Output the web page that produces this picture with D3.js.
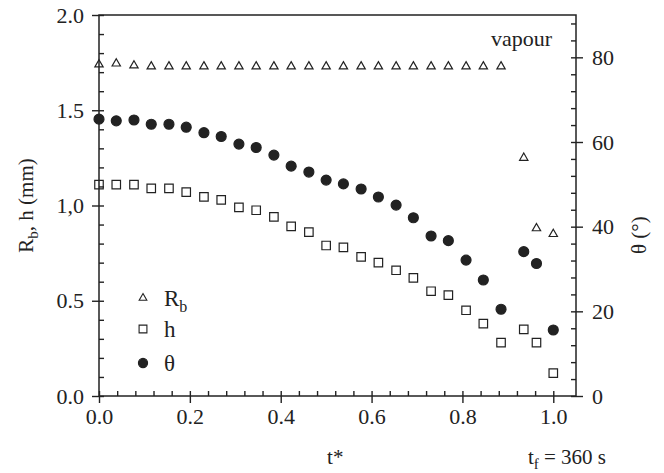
<!DOCTYPE html>
<html>
<head>
<meta charset="utf-8">
<script src="https://cdn.jsdelivr.net/npm/d3@7"></script>
<style>
  body { margin: 0; background: #fff; }
  svg text { font-family: "Liberation Serif", "Times New Roman", serif; fill: #222; }
</style>
</head>
<body>
<div id="chart"></div>
<script>
// dimensionless time t* = t / tf, tf = 360 s
const tStar = [0, 0.038, 0.077, 0.115, 0.154, 0.192, 0.231, 0.269, 0.308, 0.346,
  0.385, 0.423, 0.462, 0.5, 0.538, 0.577, 0.615, 0.654, 0.692, 0.731, 0.769,
  0.808, 0.846, 0.885, 0.935, 0.963, 1.0];

// base radius Rb (mm)
const rbValues = [1.74, 1.745, 1.735, 1.73, 1.73, 1.73, 1.73, 1.73, 1.73, 1.73,
  1.73, 1.73, 1.73, 1.73, 1.73, 1.73, 1.73, 1.73, 1.73, 1.73, 1.73,
  1.73, 1.73, 1.73, 1.25, 0.88, 0.85];

// drop height h (mm)
const hValues = [1.11, 1.11, 1.11, 1.09, 1.09, 1.07, 1.045, 1.03, 0.99, 0.975,
  0.94, 0.89, 0.86, 0.79, 0.78, 0.73, 0.70, 0.66, 0.62, 0.55, 0.53,
  0.45, 0.38, 0.28, 0.35, 0.28, 0.12];

// contact angle theta (deg)
const thetaValues = [65.4, 65.0, 65.2, 64.2, 64.2, 63.5, 62.2, 61.3, 59.5, 58.7,
  56.9, 54.3, 52.9, 51.0, 50.1, 48.9, 47.0, 45.1, 42.1, 37.8, 36.7,
  32.1, 27.4, 20.5, 34.1, 31.3, 15.6];

const xMajor = [0, 0.2, 0.4, 0.6, 0.8, 1.0];
const xLabels = ["0.0", "0.2", "0.4", "0.6", "0.8", "1.0"];
const yMajor = [0, 0.5, 1.0, 1.5, 2.0];
const yLabels = ["0.0", "0.5", "1,0", "1.5", "2.0"];
const thetaMajor = [0, 20, 40, 60, 80];

const legendItems = [
  { key: "rb", label: "R", sub: "b" },
  { key: "h", label: "h", sub: "" },
  { key: "theta", label: "θ", sub: "" },
];

const width = 664, height = 473;
const margin = { left: 99, right: 88, top: 15, bottom: 77 };
const ink = "#222";

const svg = d3.select("#chart").append("svg")
  .attr("width", width)
  .attr("height", height);

const x = d3.scaleLinear().domain([0, 1.05])
  .range([margin.left, width - margin.right]);
const y = d3.scaleLinear().domain([0, 2])
  .range([height - margin.bottom, margin.top]);
const yTheta = d3.scaleLinear().domain([0, 90])
  .range([height - margin.bottom, margin.top]);

const x0 = x.range()[0], x1 = x.range()[1];
const y0 = y.range()[0], y1 = y.range()[1];

// minor ticks: every 0.04 on t*, 0.1 on Rb/h, 4 deg on theta
const xMinor = d3.range(0, 26).map((i) => i * 0.04);
const yMinor = d3.range(0, 21).map((i) => i * 0.1);
const thetaMinor = d3.range(0, 23).map((i) => i * 4);

function styleAxis(g) {
  g.select(".domain").remove();
  g.selectAll("line").attr("stroke", ink).attr("stroke-width", 1.4);
  g.selectAll("text")
    .attr("font-size", 22)
    .attr("fill", ink)
    .style("font-family", "'Liberation Serif', serif");
}

// inward ticks (minor + major)
svg.append("g")
  .attr("transform", `translate(0,${y0})`)
  .call(d3.axisBottom(x).tickValues(xMinor).tickSize(-5).tickFormat(""))
  .call(styleAxis);
svg.append("g")
  .attr("transform", `translate(${x0},0)`)
  .call(d3.axisLeft(y).tickValues(yMinor).tickSize(-5).tickFormat(""))
  .call(styleAxis);
svg.append("g")
  .attr("transform", `translate(${x1},0)`)
  .call(d3.axisRight(yTheta).tickValues(thetaMinor).tickSize(-5).tickFormat(""))
  .call(styleAxis);

// outward major ticks with labels
svg.append("g")
  .attr("transform", `translate(0,${y0})`)
  .call(d3.axisBottom(x).tickValues(xMajor).tickSize(7).tickPadding(5)
    .tickFormat((d, i) => xLabels[i]))
  .call(styleAxis);
svg.append("g")
  .attr("transform", `translate(${x0},0)`)
  .call(d3.axisLeft(y).tickValues(yMajor).tickSize(7).tickPadding(8)
    .tickFormat((d, i) => yLabels[i]))
  .call(styleAxis);
svg.append("g")
  .attr("transform", `translate(${x1},0)`)
  .call(d3.axisRight(yTheta).tickValues(thetaMajor).tickSize(7).tickPadding(9))
  .call(styleAxis);

// frame
svg.append("rect")
  .attr("x", x0).attr("y", y1)
  .attr("width", x1 - x0).attr("height", y0 - y1)
  .attr("fill", "none")
  .attr("stroke", ink)
  .attr("stroke-width", 1.5);

// axis titles
const leftTitle = svg.append("text")
  .attr("transform", `translate(33,${(y0 + y1) / 2}) rotate(-90)`)
  .attr("text-anchor", "middle")
  .attr("font-size", 21);
leftTitle.append("tspan").text("R");
leftTitle.append("tspan").attr("font-size", 15).attr("dy", 5).text("b");
leftTitle.append("tspan").attr("dy", -5).text(", h (mm)");

svg.append("text")
  .attr("transform", `translate(646,${yTheta(38)}) rotate(-90)`)
  .attr("text-anchor", "middle")
  .attr("font-size", 21)
  .text("θ (°)");

svg.append("text")
  .attr("x", x(0.52)).attr("y", 464)
  .attr("text-anchor", "middle")
  .attr("font-size", 21)
  .text("t*");

const tfLabel = svg.append("text")
  .attr("x", 606).attr("y", 464)
  .attr("text-anchor", "end")
  .attr("font-size", 21);
tfLabel.append("tspan").text("t");
tfLabel.append("tspan").attr("font-size", 15).attr("dy", 5).text("f");
tfLabel.append("tspan").attr("dy", -5).text(" = 360 s");

svg.append("text")
  .attr("x", 552).attr("y", 46)
  .attr("text-anchor", "end")
  .attr("font-size", 22)
  .text("vapour");

// markers
const symbols = {
  rb: { type: d3.symbolTriangle, size: 30, fill: "none" },
  h: { type: d3.symbolSquare, size: 72, fill: "none" },
  theta: { type: d3.symbolCircle, size: 78, fill: ink },
};

function drawSeries(key, values, scale) {
  const s = symbols[key];
  svg.append("g")
    .selectAll("path")
    .data(values)
    .enter()
    .append("path")
    .attr("transform", (d, i) => `translate(${x(tStar[i])},${scale(d)})`)
    .attr("d", d3.symbol().type(s.type).size(s.size))
    .attr("fill", s.fill)
    .attr("stroke", ink)
    .attr("stroke-width", 1.2);
}

drawSeries("rb", rbValues, y);
drawSeries("h", hValues, y);
drawSeries("theta", thetaValues, yTheta);

// legend
const legend = svg.append("g");
const legendY = [298, 329, 363];
legendItems.forEach((item, i) => {
  const s = symbols[item.key];
  legend.append("path")
    .attr("transform", `translate(143,${legendY[i]})`)
    .attr("d", d3.symbol().type(s.type).size(s.size * 0.85))
    .attr("fill", s.fill)
    .attr("stroke", ink)
    .attr("stroke-width", 1.1);
  const label = legend.append("text")
    .attr("x", 164).attr("y", legendY[i] + 8)
    .attr("font-size", 23);
  label.append("tspan").text(item.label);
  if (item.sub) {
    label.append("tspan").attr("font-size", 16).attr("dy", 6).text(item.sub);
  }
});
</script>
</body>
</html>
